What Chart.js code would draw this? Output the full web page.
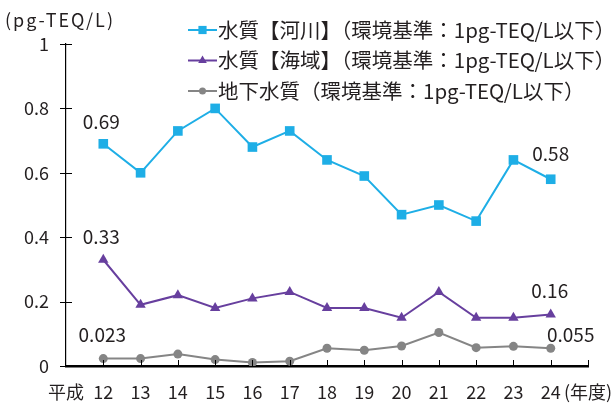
<!DOCTYPE html>
<html>
<head>
<meta charset="utf-8">
<script src="https://cdn.jsdelivr.net/npm/chart.js@4.4.1/dist/chart.umd.min.js"></script>
<style>
  html, body { margin: 0; padding: 0; background: #fff; }
</style>
</head>
<body>
<canvas id="dioxinChart" width="616" height="412"></canvas>
<script>
// 年度（平成）
const years = [12, 13, 14, 15, 16, 17, 18, 19, 20, 21, 22, 23, 24];

// ダイオキシン類濃度 (pg-TEQ/L)
const riverValues = [0.69, 0.60, 0.73, 0.80, 0.68, 0.73, 0.64, 0.59, 0.47, 0.50, 0.45, 0.64, 0.58];
const seaValues = [0.33, 0.19, 0.22, 0.18, 0.21, 0.23, 0.18, 0.18, 0.15, 0.23, 0.15, 0.15, 0.16];
const groundValues = [0.023, 0.023, 0.037, 0.020, 0.011, 0.015, 0.055, 0.049, 0.062, 0.104, 0.057, 0.061, 0.055];

const seriesNames = [
  "水質【河川】（環境基準：1pg-TEQ/L以下）",
  "水質【海域】（環境基準：1pg-TEQ/L以下）",
  "地下水質（環境基準：1pg-TEQ/L以下）"
];
const unitLabel = "(pg-TEQ/L)";
const startLabel = "平成";
const endLabel = "(年度)";

const FONT = "'Noto Sans CJK JP', 'Noto Sans', sans-serif";
const TEXT = "#231f20";

const toPoints = vals => years.map((yr, i) => ({ x: yr, y: vals[i] }));

// label offsets for first / last value of each series
const labelOffsets = [
  [[-2, -22], [0, -25]],
  [[-2, -23], [-1, -24]],
  [[-1, -24], [20, -14]]
];

const decorPlugin = {
  id: "decor",
  afterDraw(chart) {
    const ctx = chart.ctx;
    const xs = chart.scales.x, ys = chart.scales.y;
    ctx.save();

    // y ticks crossing the axis
    ctx.strokeStyle = "#000";
    ctx.lineWidth = 1;
    ys.ticks.forEach(t => {
      const py = Math.round(ys.getPixelForValue(t.value)) + 0.5;
      ctx.beginPath();
      ctx.moveTo(xs.left - 6, py);
      ctx.lineTo(xs.left + 6, py);
      ctx.stroke();
    });
    // x ticks pointing up
    xs.ticks.forEach(t => {
      if (t.value <= xs.min) return;
      const px = Math.round(xs.getPixelForValue(t.value)) + 0.5;
      ctx.beginPath();
      ctx.moveTo(px, ys.bottom);
      ctx.lineTo(px, ys.bottom - 6);
      ctx.stroke();
    });

    // unit
    ctx.fillStyle = TEXT;
    ctx.font = "18px " + FONT;
    ctx.letterSpacing = "2px";
    ctx.textAlign = "left";
    ctx.textBaseline = "middle";
    ctx.fillText(unitLabel, 5, 20);
    ctx.letterSpacing = "0px";

    // legend
    chart.data.datasets.forEach((ds, i) => {
      const ly = 30 + i * 30.5;
      ctx.strokeStyle = ds.borderColor;
      ctx.lineWidth = 2;
      ctx.beginPath();
      ctx.moveTo(188, ly);
      ctx.lineTo(217, ly);
      ctx.stroke();
      ctx.fillStyle = ds.pointBackgroundColor;
      Chart.helpers.drawPoint(ctx, { pointStyle: ds.pointStyle, radius: ds.pointRadius - 1, borderWidth: 0, rotation: 0 }, 202.5, ly);
      ctx.fillStyle = TEXT;
      ctx.font = "20.5px " + FONT;
      ctx.textAlign = "left";
      ctx.fillText(ds.label, 218, ly);
    });

    // first / last value labels
    ctx.font = "19px " + FONT;
    ctx.textAlign = "center";
    chart.data.datasets.forEach((ds, i) => {
      const meta = chart.getDatasetMeta(i);
      [0, meta.data.length - 1].forEach((idx, k) => {
        const pt = meta.data[idx];
        const [dx, dy] = labelOffsets[i][k];
        ctx.fillText(String(ds.data[idx].y), pt.x + dx, pt.y + dy);
      });
    });
    ctx.restore();
  }
};

const makeSeries = (label, vals, color, style, radius) => ({
  label: label,
  data: toPoints(vals),
  borderColor: color,
  backgroundColor: color,
  pointBackgroundColor: color,
  pointBorderColor: color,
  pointBorderWidth: 0,
  pointStyle: style,
  pointRadius: radius,
  pointHoverRadius: radius,
  borderWidth: 2,
  tension: 0
});

new Chart(document.getElementById("dioxinChart"), {
  type: "line",
  data: {
    datasets: [
      makeSeries(seriesNames[0], riverValues, "#1eaee6", "rect", 6.8),
      makeSeries(seriesNames[1], seaValues, "#673f9e", "triangle", 6),
      makeSeries(seriesNames[2], groundValues, "#858585", "circle", 4.5)
    ]
  },
  options: {
    responsive: false,
    animation: false,
    layout: { padding: { top: 44, right: 28, left: 0, bottom: 0 } },
    plugins: {
      legend: { display: false },
      tooltip: { enabled: false }
    },
    scales: {
      x: {
        type: "linear",
        min: 11,
        max: 25,
        afterFit(scale) {
          scale.height = 46;
          scale.paddingLeft = 0;
          scale.paddingRight = 0;
        },
        grid: { drawOnChartArea: false, drawTicks: false },
        border: { color: "#000", width: 2.5 },
        ticks: {
          stepSize: 1,
          autoSkip: false,
          maxRotation: 0,
          padding: 15,
          color: TEXT,
          font: { family: FONT, size: 18 },
          callback: v => v === 11 ? startLabel : v === 25 ? endLabel : String(v)
        }
      },
      y: {
        min: 0,
        max: 1,
        afterFit(scale) { scale.width = 66; },
        grid: { drawOnChartArea: false, drawTicks: false },
        border: { color: "#000", width: 1.2 },
        ticks: {
          stepSize: 0.2,
          padding: 17,
          color: TEXT,
          font: { family: FONT, size: 18 },
          callback: v => v === 0 ? "0" : v === 1 ? "1" : v.toFixed(1)
        }
      }
    }
  },
  plugins: [decorPlugin]
});
</script>
</body>
</html>
